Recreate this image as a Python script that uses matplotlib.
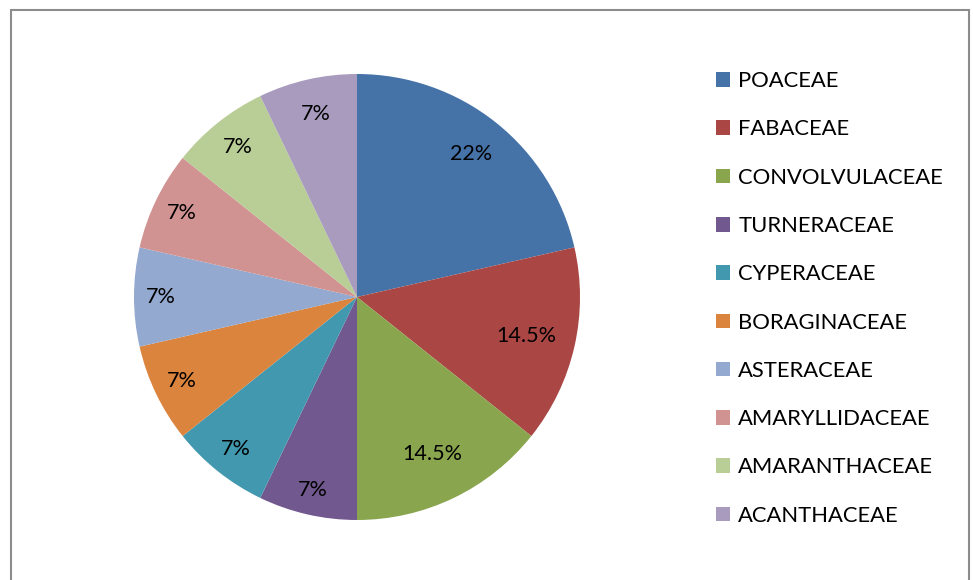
import numpy as np
import matplotlib.pyplot as plt
from matplotlib.patches import Rectangle, Patch

families = ['POACEAE', 'FABACEAE', 'CONVOLVULACEAE', 'TURNERACEAE', 'CYPERACEAE',
            'BORAGINACEAE', 'ASTERACEAE', 'AMARYLLIDACEAE', 'AMARANTHACEAE', 'ACANTHACEAE']
# slice sizes as drawn (species counts), labels as printed on the chart
counts = [3, 2, 2, 1, 1, 1, 1, 1, 1, 1]
pct_labels = ['22%', '14.5%', '14.5%', '7%', '7%', '7%', '7%', '7%', '7%', '7%']
colors = ['#4572A7', '#AA4643', '#89A54E', '#71588F', '#4198AF',
          '#DB843D', '#93A9CF', '#D19392', '#B9CD96', '#A99BBD']

plt.rcParams['font.family'] = ['Lato', 'DejaVu Sans']

fig = plt.figure(figsize=(9.73, 5.8), dpi=100)
ax = fig.add_axes([134 / 973, 60 / 580, 446 / 973, 446 / 580])

wedges, _ = ax.pie(counts, colors=colors, startangle=90, counterclock=False,
                   wedgeprops=dict(edgecolor='none'))
ax.set_xlim(-1, 1)
ax.set_ylim(-1, 1)
ax.set_aspect('equal')

# label distance from centre, as fraction of the radius
label_r = [0.82, 0.78, 0.78, 0.89, 0.87, 0.87, 0.88, 0.87, 0.86, 0.84]
for w, txt, r in zip(wedges, pct_labels, label_r):
    mid = np.deg2rad((w.theta1 + w.theta2) / 2)
    ax.text(r * np.cos(mid), r * np.sin(mid), txt, ha='center', va='center',
            fontsize=15.5, color='black')

handles = [Patch(facecolor=c, edgecolor='none') for c in colors]
fig.legend(handles, families, loc='upper left', bbox_to_anchor=(716 / 973, 1 - 71 / 580),
           frameon=False, fontsize=15.8, handlelength=0.65, handleheight=0.65,
           handletextpad=0.36, labelspacing=1.29, borderpad=0, borderaxespad=0)

# chart area border
fig.patches.append(Rectangle((11 / 973, -0.05), 958 / 973, 1.05 - 9.5 / 580,
                             transform=fig.transFigure, fill=False,
                             edgecolor='#8c8c8c', linewidth=1.5))

plt.savefig('out.png', dpi=100)
